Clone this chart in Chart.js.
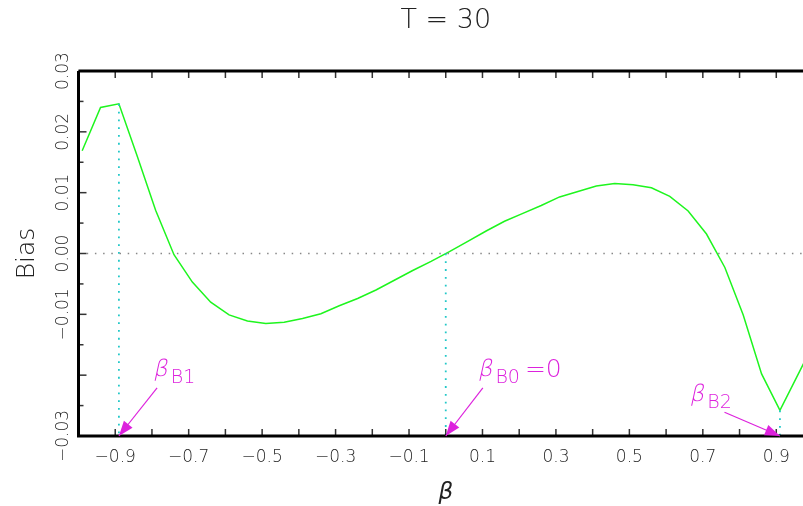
<!DOCTYPE html>
<html>
<head>
<meta charset="utf-8">
<script src="https://cdn.jsdelivr.net/npm/chart.js@4.4.1/dist/chart.umd.min.js"></script>
<style>
  html, body { margin: 0; padding: 0; overflow: hidden; background: #fff; }
  #wrap { width: 830px; height: 506px; }
</style>
</head>
<body>
<div id="wrap"><canvas id="my-Chart" width="830" height="506"></canvas></div>
<script>
// valores
const betaValues = [
    -0.99, -0.94, -0.89, -0.84, -0.79, -0.74, -0.69, -0.64, -0.59, -0.54,
    -0.49, -0.44, -0.39, -0.34, -0.29, -0.24, -0.19, -0.14, -0.09, -0.04,
     0.01,  0.06,  0.11,  0.16,  0.21,  0.26,  0.31,  0.36,  0.41,  0.46,
     0.51,  0.56,  0.61,  0.66,  0.71,  0.76,  0.81,  0.86,  0.91,  0.99
];
const biasValues = [
     0.0169,  0.0240,  0.0246,  0.0160,  0.0071, -0.0002, -0.0047, -0.0080, -0.0101, -0.0111,
    -0.0115, -0.0113, -0.0107, -0.0099, -0.0086, -0.0074, -0.0060, -0.0044, -0.0028, -0.0013,
     0.0003,  0.0020,  0.0037,  0.0053,  0.0066,  0.0079,  0.0093,  0.0102,  0.0111,  0.0115,
     0.0113,  0.0108,  0.0094,  0.0070,  0.0032, -0.0023, -0.0101, -0.0198, -0.0258, -0.0162
];

// pontos de fronteira (linhas tracejadas em ciano)
const boundaryBeta = [-0.89, 0.0, 0.91];
const boundaryBias = [0.0246, 0.0, -0.0258];
const boundaryNames = ['B1', 'B0', 'B2'];
const boundarySuffix = ['', '=0', ''];

// rótulos dos eixos
const xTickValues = [-0.9, -0.7, -0.5, -0.3, -0.1, 0.1, 0.3, 0.5, 0.7, 0.9];
const xTickLabels = ['\u22120.9', '\u22120.7', '\u22120.5', '\u22120.3', '\u22120.1', '0.1', '0.3', '0.5', '0.7', '0.9'];
const yTickValues = [0.03, 0.02, 0.01, 0.00, -0.01, -0.03];
const yTickLabels = ['0.03', '0.02', '0.01', '0.00', '\u22120.01', '\u22120.03'];

const FONT = "'DejaVu Sans', 'Liberation Sans', sans-serif";
const MAGENTA = '#dd22dd';

// posição das anotações (em coordenadas dos dados)
const annotations = [
    { textX: -0.797, textY: -0.0202, fromX: -0.786, fromY: -0.0221 },
    { textX: 0.087, textY: -0.0202, fromX: 0.101, fromY: -0.0221 },
    { textX: 0.664, textY: -0.0243, fromX: 0.759, fromY: -0.0261 }
];

function drawArrow(ctx, x1, y1, x2, y2) {
    const ang = Math.atan2(y2 - y1, x2 - x1);
    const len = 15, half = 5.5;
    ctx.beginPath();
    ctx.moveTo(x1, y1);
    ctx.lineTo(x2, y2);
    ctx.stroke();
    ctx.beginPath();
    ctx.moveTo(x2, y2);
    ctx.lineTo(x2 - len * Math.cos(ang) + half * Math.sin(ang), y2 - len * Math.sin(ang) - half * Math.cos(ang));
    ctx.lineTo(x2 - len * Math.cos(ang) - half * Math.sin(ang), y2 - len * Math.sin(ang) + half * Math.cos(ang));
    ctx.closePath();
    ctx.fill();
}

// beta inclinado com a fonte fina
function drawSlanted(ctx, text, x, y) {
    ctx.save();
    ctx.translate(x, y);
    ctx.transform(1, 0, -0.22, 1, 0, 0);
    ctx.fillText(text, 0, 0);
    ctx.restore();
}

// moldura, marcas internas e anotações
const framePlugin = {
    id: 'frame',
    afterDatasetsDraw(chart) {
        const ctx = chart.ctx;
        const a = chart.chartArea;
        const xs = chart.scales.x;
        const ys = chart.scales.y;
        ctx.save();

        // marcas do eixo x (dentro da área)
        ctx.strokeStyle = '#333';
        ctx.lineWidth = 1.5;
        xs.ticks.forEach(t => {
            const px = xs.getPixelForValue(t.value);
            ctx.beginPath();
            ctx.moveTo(px, a.bottom); ctx.lineTo(px, a.bottom - 7);
            ctx.moveTo(px, a.top); ctx.lineTo(px, a.top + 7);
            ctx.stroke();
        });
        ys.ticks.forEach(t => {
            const py = ys.getPixelForValue(t.value);
            const major = Math.abs(Math.round(t.value * 1000)) % 10 === 0;
            ctx.beginPath();
            ctx.moveTo(a.left, py); ctx.lineTo(a.left + (major ? 8 : 5), py);
            ctx.stroke();
        });

        // moldura
        ctx.strokeStyle = '#000';
        ctx.lineWidth = 3;
        ctx.beginPath();
        ctx.moveTo(a.left, a.top); ctx.lineTo(a.right, a.top);
        ctx.moveTo(a.left, a.top); ctx.lineTo(a.left, a.bottom);
        ctx.moveTo(a.left - 1.5, a.bottom); ctx.lineTo(a.right, a.bottom);
        ctx.moveTo(a.right, a.top); ctx.lineTo(a.right, a.bottom);
        ctx.stroke();

        // anotações beta_B
        ctx.strokeStyle = MAGENTA;
        ctx.fillStyle = MAGENTA;
        ctx.lineWidth = 1.2;
        annotations.forEach((an, i) => {
            const tx = xs.getPixelForValue(an.textX);
            const ty = ys.getPixelForValue(an.textY);
            ctx.textBaseline = 'alphabetic';
            ctx.textAlign = 'left';
            ctx.font = '200 23px ' + FONT;
            drawSlanted(ctx, '\u03b2', tx, ty);
            const bw = ctx.measureText('\u03b2').width;
            ctx.font = '200 19px ' + FONT;
            ctx.fillText(boundaryNames[i], tx + bw + 3, ty + 7);
            const sw = ctx.measureText(boundaryNames[i]).width;
            if (boundarySuffix[i]) {
                ctx.font = '200 25px ' + FONT;
                ctx.fillText(boundarySuffix[i], tx + bw + sw + 8, ty + 1);
            }
            drawArrow(ctx,
                xs.getPixelForValue(an.fromX), ys.getPixelForValue(an.fromY),
                xs.getPixelForValue(boundaryBeta[i]), ys.getPixelForValue(-0.03));
        });
        ctx.restore();
    }
};

function labelFor(values, labels, v, scale) {
    const idx = values.findIndex(t => Math.round(t * scale) === Math.round(v * scale));
    return idx >= 0 ? labels[idx] : '';
}

function plotChart() {
    const ctx = document.querySelector('#my-Chart');

    const curve = betaValues.map((b, i) => ({ x: b, y: biasValues[i] }));
    const refSets = boundaryBeta.map((b, i) => ({
        data: [{ x: b, y: boundaryBias[i] }, { x: b, y: -0.03 }],
        borderColor: '#22c8c8',
        borderWidth: 1.8,
        borderDash: [1.8, 6],
        pointRadius: 0
    }));

    new Chart(ctx, {
        type: 'line',
        data: {
            datasets: [
                {
                    data: [{ x: -1, y: 0 }, { x: 1, y: 0 }],
                    borderColor: '#888',
                    borderWidth: 1.5,
                    borderDash: [1.5, 6.7],
                    pointRadius: 0
                },
                ...refSets,
                {
                    label: 'Bias',
                    data: curve,
                    borderColor: 'rgb(30, 245, 30)',
                    borderWidth: 1.5,
                    pointRadius: 0,
                    tension: 0
                }
            ]
        },
        options: {
            responsive: false,
            animation: false,
            layout: { padding: { left: 0, right: 17, top: 0, bottom: 0 } },
            plugins: {
                legend: { display: false },
                tooltip: { enabled: false },
                title: {
                    display: true,
                    text: 'T = 30',
                    fullSize: false,
                    color: '#222',
                    font: { family: FONT, size: 27, weight: 200, lineHeight: 1.2 },
                    padding: { top: 5, bottom: 33.6 }
                }
            },
            scales: {
                x: {
                    type: 'linear',
                    min: -1,
                    max: 1,
                    afterFit(scale) { scale.height = 70; },
                    grid: { display: false, drawTicks: false },
                    border: { display: false },
                    ticks: {
                        stepSize: 0.1,
                        autoSkip: false,
                        maxRotation: 0,
                        padding: 11,
                        color: '#222',
                        font: { family: FONT, size: 17, weight: 200 },
                        callback: v => labelFor(xTickValues, xTickLabels, v, 10)
                    },
                    title: {
                        display: true,
                        text: '\u03b2',
                        color: '#222',
                        font: { family: FONT, size: 23, style: 'italic', weight: 'normal', lineHeight: 1 },
                        padding: { top: 0, bottom: 1 }
                    }
                },
                y: {
                    min: -0.03,
                    max: 0.03,
                    afterFit(scale) { scale.width = 78.5; },
                    grid: { display: false, drawTicks: false },
                    border: { display: false },
                    ticks: {
                        stepSize: 0.005,
                        autoSkip: false,
                        minRotation: 90,
                        maxRotation: 90,
                        crossAlign: 'center',
                        padding: -11,
                        color: '#222',
                        font: { family: FONT, size: 17, weight: 200 },
                        callback: v => labelFor(yTickValues, yTickLabels, v, 1000)
                    },
                    title: {
                        display: true,
                        text: 'Bias',
                        color: '#222',
                        font: { family: FONT, size: 25, weight: 200, lineHeight: 1.2 },
                        padding: { top: 12, bottom: 0 }
                    }
                }
            }
        },
        plugins: [framePlugin]
    });
}

document.addEventListener('DOMContentLoaded', () => {
    plotChart();
});
</script>
</body>
</html>
